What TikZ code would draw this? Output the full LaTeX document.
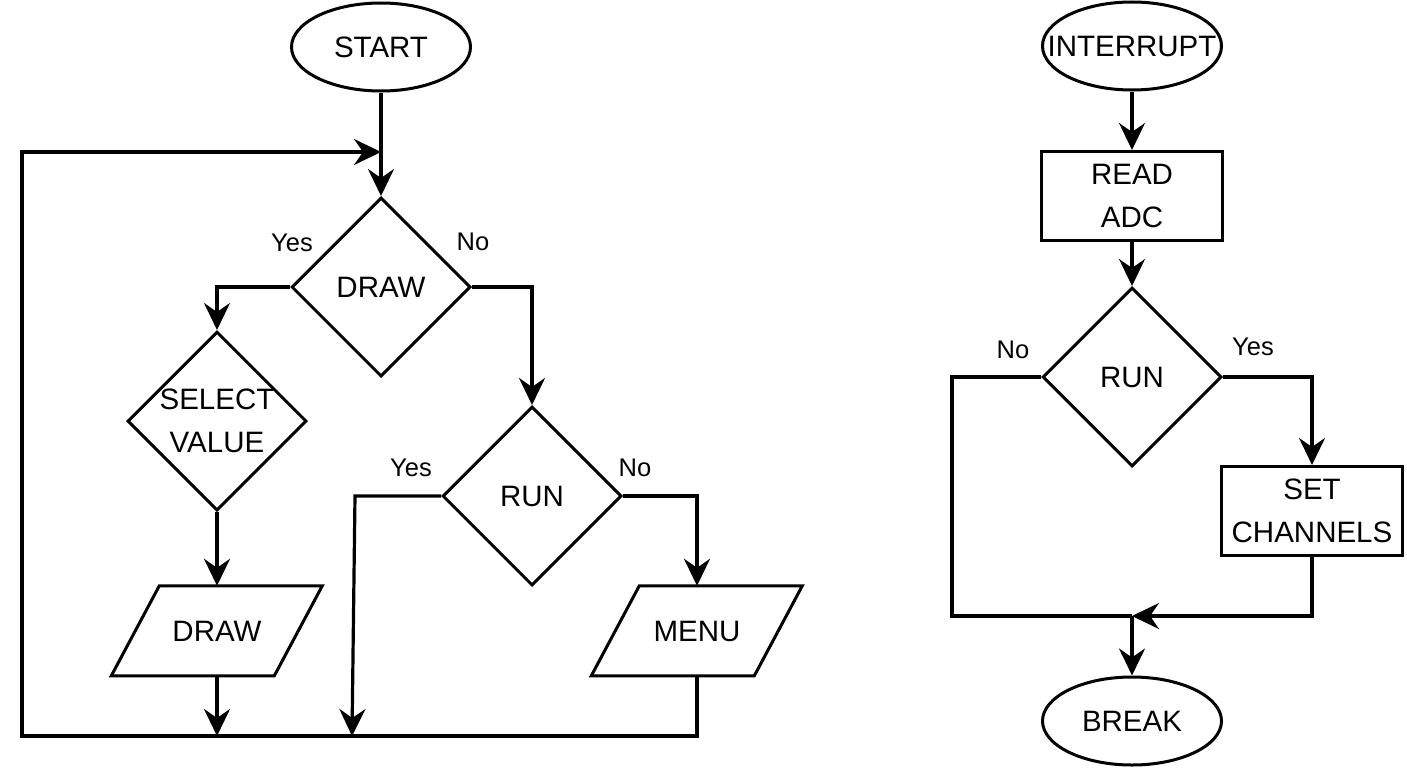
\documentclass[tikz,border=0pt]{standalone}
\usepackage{fontspec}
\setmainfont{Liberation Sans}
\usetikzlibrary{shapes.geometric,arrows.meta}
\begin{document}
\begin{tikzpicture}[x=1pt,y=-1pt,
  every node/.style={font=\fontsize{29.5}{43}\selectfont},
  shp/.style={draw, line width=3pt, inner sep=0pt},
  term/.style={shp, ellipse, minimum width=179pt, minimum height=88pt},
  dec/.style={shp, diamond, aspect=1, minimum width=179pt, minimum height=179pt},
  iotext/.style={inner sep=0pt, minimum width=163pt, minimum height=90pt},
  para/.style={draw, line width=3pt, line join=miter},
  proc/.style={shp, rectangle, minimum width=181pt, minimum height=89pt, align=center},
  txt/.style={align=center, inner sep=0pt},
  lbl/.style={font=\fontsize{25.5}{30}\selectfont, inner sep=0pt},
  con/.style={line width=3.2pt},
  arr/.style={con, -{Stealth[length=27pt,width=26pt,inset=9pt]}},
]
\path[use as bounding box] (0,0) rectangle (1407,768);

% left flowchart
\node[term] (start) at (381,47) {START};
\node[dec] (d1) at (381,287) {};
\node[txt] (d1t) at (d1) {DRAW};
\node[dec] (sv) at (217,421) {};
\node[txt] (svt) at (sv) {SELECT\\VALUE};
\node[iotext] (drw) at (217,631) {DRAW};
\draw[para] (drw.north west) ++(24,0) -- ++(163,0) -- ++(-48,90) -- ++(-163,0) -- cycle;
\node[dec] (r1) at (532,496) {};
\node[txt] (r1t) at (r1) {RUN};
\node[iotext] (menu) at (697,631) {MENU};
\draw[para] (menu.north west) ++(24,0) -- ++(163,0) -- ++(-48,90) -- ++(-163,0) -- cycle;

\coordinate (lb) at (22,736);
\coordinate (lt) at (22,152);
\coordinate (jt) at (381,152);
\coordinate (yb1) at (355,496);
\coordinate (yb2) at (352,736);
\coordinate (db) at (217,736);

\draw[arr] (start) -- (d1);
\draw[arr] (d1.west) -| (sv.north);
\draw[arr] (d1.east) -| (r1.north);
\draw[arr] (sv.south) -- (drw.north);
\draw[arr] (drw.south) -- (db);
\draw[arr] (r1.west) -- (yb1) -- (yb2);
\draw[arr] (r1.east) -| (menu.north);
\draw[arr] (menu.south) |- (lb) -- (lt) -- (jt);

\node[lbl] (y1) at (292,243) {Yes};
\node[lbl] (n1) at (473,242) {No};
\node[lbl] (y2) at (411,468) {Yes};
\node[lbl] (n2) at (635,468) {No};

% right flowchart
\node[term] (intr) at (1132,46) {};
\node[txt] (intrt) at (intr) {INTERRUPT};
\node[proc] (adc) at (1132,196) {READ\\ADC};
\node[dec] (r2) at (1132,377) {};
\node[txt] (r2t) at (r2) {RUN};
\node[proc] (set) at (1312,511) {SET\\CHANNELS};
\node[term] (brk) at (1132,721) {BREAK};

\coordinate (j2) at (1132,616);
\coordinate (nl) at (952,616);

\draw[arr] (intr) -- (adc);
\draw[arr] (adc) -- (r2);
\draw[con] (r2.west) -| (nl) -- (j2);
\draw[arr] (r2.east) -| (set.north);
\draw[arr] (set.south) |- (j2);
\draw[arr] (j2) -- (brk.north);

\node[lbl] (n3) at (1013,350) {No};
\node[lbl] (y3) at (1253,347) {Yes};
\end{tikzpicture}
\end{document}
